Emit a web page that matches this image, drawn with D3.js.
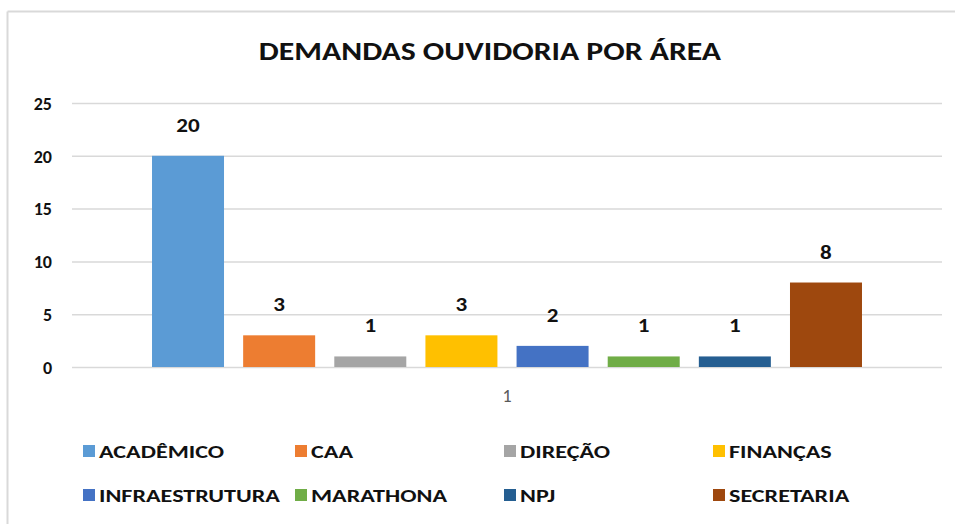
<!DOCTYPE html>
<html>
<head>
<meta charset="utf-8">
<script src="https://cdn.jsdelivr.net/npm/d3@7"></script>
<style>
  html, body { margin: 0; padding: 0; background: #fff; }
  svg { display: block; font-family: Carlito, Lato, "Liberation Sans", sans-serif; }
</style>
</head>
<body>
<svg id="chart" width="955" height="524"></svg>
<script>
// Ombudsman demands per area (single category "1")
const areas = ["ACADÊMICO", "CAA", "DIREÇÃO", "FINANÇAS", "INFRAESTRUTURA", "MARATHONA", "NPJ", "SECRETARIA"];
const demandas = [20, 3, 1, 3, 2, 1, 1, 8];
const colors = ["#5B9BD5", "#ED7D31", "#A5A5A5", "#FFC000", "#4472C4", "#70AD47", "#255E91", "#9E480E"];
const yTicks = [0, 5, 10, 15, 20, 25];
const categoryLabel = "1";
const title = "DEMANDAS OUVIDORIA POR ÁREA";

const svg = d3.select("#chart");

// widen text horizontally by a factor, keeping its anchor
function stretch(sel, factor) {
  sel.each(function () {
    const w = this.getComputedTextLength();
    d3.select(this).attr("textLength", w * factor).attr("lengthAdjust", "spacingAndGlyphs");
  });
}

// chart frame (top and left edges)
svg.append("line").attr("x1", 7.5).attr("x2", 955).attr("y1", 11.5).attr("y2", 11.5)
  .attr("stroke", "#d9d9d9").attr("stroke-width", 2);
svg.append("line").attr("x1", 7.5).attr("x2", 7.5).attr("y1", 11.5).attr("y2", 524)
  .attr("stroke", "#d9d9d9").attr("stroke-width", 2);

const plot = { left: 72, right: 942, top: 103, bottom: 367 };

const y = d3.scaleLinear().domain([0, 25]).range([plot.bottom, plot.top]);

// outer band for the single category, inner band for the series
const x0 = d3.scaleBand().domain([categoryLabel]).range([plot.left, plot.right]).paddingOuter(0.1127).paddingInner(0);
const x1 = d3.scaleBand().domain(areas).range([0, x0.bandwidth()]).paddingInner(0.21).paddingOuter(0);

// title
svg.append("text").attr("x", 490).attr("y", 60).attr("text-anchor", "middle")
  .attr("font-size", 26).attr("font-weight", "bold").attr("fill", "#111")
  .text(title).call(stretch, 1.22);

// gridlines
const yAxis = d3.axisLeft(y).tickValues(yTicks).tickSize(-(plot.right - plot.left)).tickPadding(20);
const gy = svg.append("g").attr("transform", `translate(${plot.left},0)`).call(yAxis);
gy.select(".domain").remove();
gy.selectAll(".tick line").attr("stroke", "#d9d9d9").attr("stroke-width", 1.5);
gy.selectAll(".tick text").attr("font-size", 18).attr("font-weight", "bold").attr("fill", "#111")
  .attr("font-family", "Carlito, Lato, sans-serif").attr("dy", "0.35em");

// bars
const g = svg.append("g").attr("transform", `translate(${x0(categoryLabel)},0)`);
g.selectAll("rect").data(areas).join("rect")
  .attr("x", d => x1(d))
  .attr("width", x1.bandwidth())
  .attr("y", (d, i) => y(demandas[i]))
  .attr("height", (d, i) => y(0) - y(demandas[i]))
  .attr("fill", (d, i) => colors[i]);

// value labels
g.selectAll("text.val").data(areas).join("text").attr("class", "val")
  .attr("x", d => x1(d) + x1.bandwidth() / 2)
  .attr("y", (d, i) => y(demandas[i]) - 24)
  .attr("text-anchor", "middle").attr("font-size", 21).attr("font-weight", "bold").attr("fill", "#111")
  .text((d, i) => demandas[i]).call(stretch, 1.1);

// category axis label
const xAxis = d3.axisBottom(x0).tickSize(0).tickPadding(22);
const gx = svg.append("g").attr("transform", `translate(0,${plot.bottom})`).call(xAxis);
gx.select(".domain").remove();
gx.selectAll(".tick text").attr("font-size", 18).attr("fill", "#595959")
  .attr("font-family", "Carlito, Lato, sans-serif");

// legend: 4 columns, 2 rows
const legendCols = [83, 295, 504, 713];
const legendRows = [451, 495];
const lg = svg.append("g");
const items = lg.selectAll("g").data(areas).join("g")
  .attr("transform", (d, i) => `translate(${legendCols[i % 4]},${legendRows[Math.floor(i / 4)]})`);
items.append("rect").attr("x", 0).attr("y", -6).attr("width", 12).attr("height", 12)
  .attr("fill", (d, i) => colors[i]);
items.append("text").attr("x", 16).attr("y", 0).attr("dy", "0.36em")
  .attr("font-size", 19).attr("font-weight", "bold").attr("fill", "#111")
  .text(d => d).call(stretch, 1.27);
</script>
</body>
</html>
